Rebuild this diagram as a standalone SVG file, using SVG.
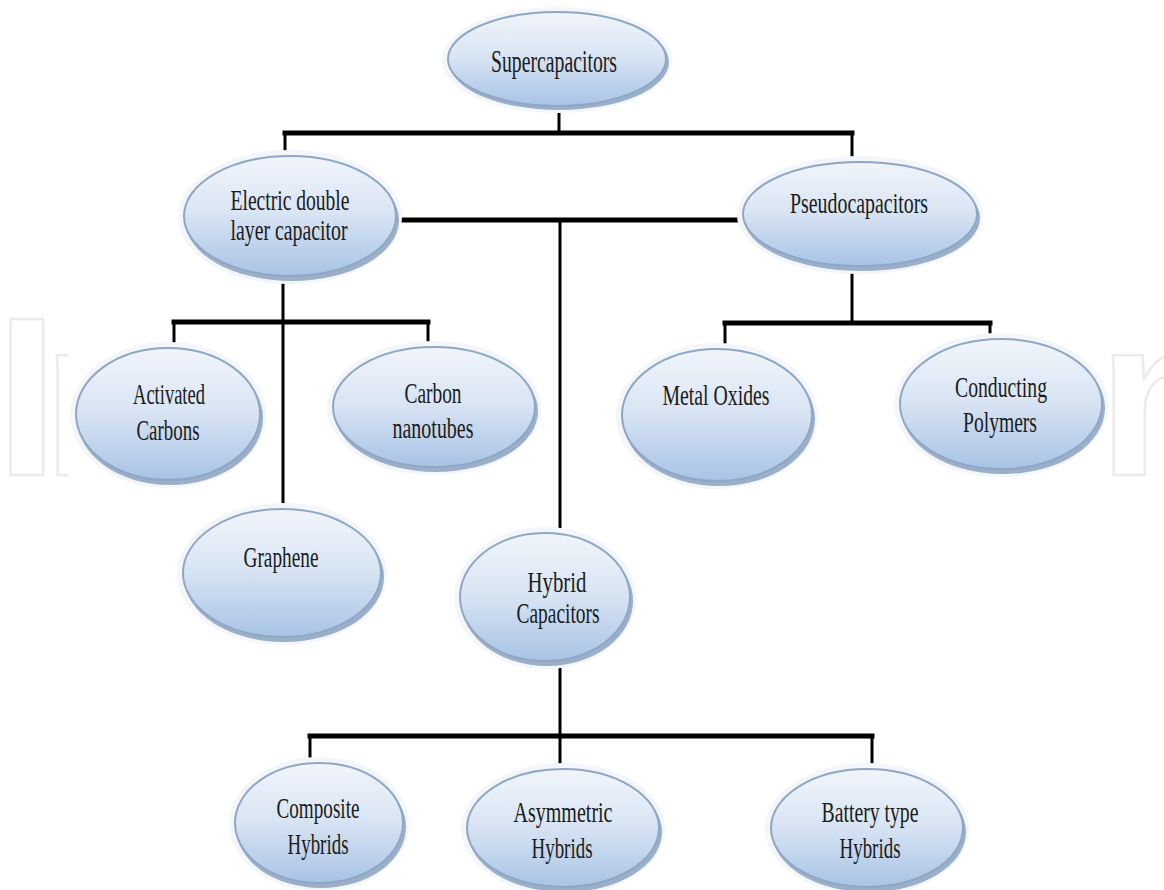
<svg xmlns="http://www.w3.org/2000/svg" width="1164" height="890" viewBox="0 0 1164 890">
  <defs>
    <linearGradient id="fillGrad" x1="0" y1="0" x2="0" y2="1">
      <stop offset="0" stop-color="#f1f5fb"/>
      <stop offset="0.45" stop-color="#dae6f4"/>
      <stop offset="1" stop-color="#a9c3e6"/>
    </linearGradient>
    <style>
      .node ellipse.body { fill: url(#fillGrad); stroke: #8fa7c6; stroke-width: 2; }
      .node ellipse.shadow { fill: #7f97b7; opacity: 0.75; }
      .node ellipse.halo { fill: none; stroke: #f3f6fa; stroke-width: 8; }
      .node text { font-family: "Liberation Serif", "Times New Roman", serif; font-size: 29px; fill: #1b1b1b; text-anchor: middle; }
      .conn line { stroke: #000; stroke-linecap: square; }
      .conn .h { stroke-width: 5; }
      .conn .v { stroke-width: 3; }
      .wm { font-family: "Liberation Sans", Arial, sans-serif; font-weight: bold; font-size: 226px; fill: none; stroke: #ebebeb; stroke-width: 2.5; }
    </style>
  </defs>

  <rect x="0" y="0" width="1164" height="890" fill="#ffffff"/>

  <!-- faint watermark (partly hidden by the diagram's white background) -->
  <g id="watermark">
    <text class="wm" x="-4.5" y="475">I</text>
    <text class="wm" x="42" y="475">n</text>
    <text class="wm" x="1098" y="475">n</text>
    <rect x="68" y="290" width="1040" height="200" fill="#ffffff"/>
  </g>

  <g id="connectors" class="conn">
    <!-- Supercapacitors to level 1 -->
    <line class="v" x1="559" y1="105" x2="559" y2="133"/>
    <line class="h" x1="285" y1="133" x2="852" y2="133"/>
    <line class="v" x1="285" y1="133" x2="285" y2="158"/>
    <line class="v" x1="852" y1="133" x2="852" y2="163"/>
    <!-- EDLC to Pseudo, and Hybrid -->
    <line class="h" x1="396" y1="220" x2="743" y2="220"/>
    <line class="v" x1="560" y1="220" x2="560" y2="533"/>
    <!-- EDLC children -->
    <line class="v" x1="283" y1="278" x2="283" y2="509"/>
    <line class="h" x1="174" y1="322" x2="428" y2="322"/>
    <line class="v" x1="174" y1="322" x2="174" y2="348"/>
    <line class="v" x1="428" y1="322" x2="428" y2="347"/>
    <!-- Pseudo children -->
    <line class="v" x1="852" y1="268" x2="852" y2="323"/>
    <line class="h" x1="725" y1="323" x2="990" y2="323"/>
    <line class="v" x1="725" y1="323" x2="725" y2="349"/>
    <line class="v" x1="990" y1="323" x2="990" y2="339"/>
    <!-- Hybrid children -->
    <line class="v" x1="560" y1="663" x2="560" y2="736"/>
    <line class="h" x1="310" y1="736" x2="872" y2="736"/>
    <line class="v" x1="310" y1="736" x2="310" y2="763"/>
    <line class="v" x1="560" y1="736" x2="560" y2="769"/>
    <line class="v" x1="872" y1="736" x2="872" y2="769"/>
  </g>

  <g id="supercapacitors" class="node">
    <ellipse class="halo" cx="557" cy="60" rx="111" ry="49"/>
    <ellipse class="shadow" cx="559" cy="62" rx="110" ry="48"/>
    <ellipse class="body" cx="557" cy="59" rx="109" ry="47"/>
    <text x="554" y="72" textLength="126" lengthAdjust="spacingAndGlyphs" style="font-size:31px">Supercapacitors</text>
  </g>

  <g id="edlc" class="node">
    <ellipse class="halo" cx="290" cy="217" rx="108" ry="63"/>
    <ellipse class="shadow" cx="292" cy="220" rx="107" ry="61"/>
    <ellipse class="body" cx="290" cy="216" rx="106" ry="60"/>
    <text x="290" y="210" textLength="119" lengthAdjust="spacingAndGlyphs">Electric double</text>
    <text x="289" y="240" textLength="117" lengthAdjust="spacingAndGlyphs">layer capacitor</text>
  </g>

  <g id="pseudocapacitors" class="node">
    <ellipse class="halo" cx="860" cy="215" rx="119" ry="55"/>
    <ellipse class="shadow" cx="862" cy="218" rx="118" ry="53"/>
    <ellipse class="body" cx="860" cy="214" rx="117" ry="52"/>
    <text x="859" y="213" textLength="138" lengthAdjust="spacingAndGlyphs">Pseudocapacitors</text>
  </g>

  <g id="activated-carbons" class="node">
    <ellipse class="halo" cx="168" cy="415" rx="94" ry="69"/>
    <ellipse class="shadow" cx="170" cy="418" rx="93" ry="67"/>
    <ellipse class="body" cx="168" cy="414" rx="92" ry="66"/>
    <text x="169" y="404" textLength="72" lengthAdjust="spacingAndGlyphs">Activated</text>
    <text x="168" y="440" textLength="63" lengthAdjust="spacingAndGlyphs">Carbons</text>
  </g>

  <g id="carbon-nanotubes" class="node">
    <ellipse class="halo" cx="434" cy="408" rx="103" ry="63"/>
    <ellipse class="shadow" cx="436" cy="411" rx="102" ry="61"/>
    <ellipse class="body" cx="434" cy="407" rx="101" ry="60"/>
    <text x="433" y="403" textLength="57" lengthAdjust="spacingAndGlyphs">Carbon</text>
    <text x="433" y="438" textLength="81" lengthAdjust="spacingAndGlyphs">nanotubes</text>
  </g>

  <g id="metal-oxides" class="node">
    <ellipse class="halo" cx="717" cy="416" rx="97" ry="69"/>
    <ellipse class="shadow" cx="719" cy="419" rx="96" ry="67"/>
    <ellipse class="body" cx="717" cy="415" rx="95" ry="66"/>
    <text x="716" y="405" textLength="107" lengthAdjust="spacingAndGlyphs">Metal Oxides</text>
  </g>

  <g id="conducting-polymers" class="node">
    <ellipse class="halo" cx="1001" cy="405" rx="103" ry="68"/>
    <ellipse class="shadow" cx="1003" cy="408" rx="102" ry="66"/>
    <ellipse class="body" cx="1001" cy="404" rx="101" ry="65"/>
    <text x="1001" y="397" textLength="92" lengthAdjust="spacingAndGlyphs">Conducting</text>
    <text x="1000" y="432" textLength="74" lengthAdjust="spacingAndGlyphs">Polymers</text>
  </g>

  <g id="graphene" class="node">
    <ellipse class="halo" cx="282" cy="574" rx="101" ry="67"/>
    <ellipse class="shadow" cx="284" cy="577" rx="100" ry="65"/>
    <ellipse class="body" cx="282" cy="573" rx="99" ry="64"/>
    <text x="281" y="567" textLength="75" lengthAdjust="spacingAndGlyphs">Graphene</text>
  </g>

  <g id="hybrid-capacitors" class="node">
    <ellipse class="halo" cx="545" cy="598" rx="87" ry="67"/>
    <ellipse class="shadow" cx="547" cy="601" rx="86" ry="65"/>
    <ellipse class="body" cx="545" cy="597" rx="85" ry="64"/>
    <text x="557" y="592" textLength="59" lengthAdjust="spacingAndGlyphs">Hybrid</text>
    <text x="558" y="623" textLength="83" lengthAdjust="spacingAndGlyphs">Capacitors</text>
  </g>

  <g id="composite-hybrids" class="node">
    <ellipse class="halo" cx="319" cy="824" rx="86" ry="63"/>
    <ellipse class="shadow" cx="321" cy="827" rx="85" ry="61"/>
    <ellipse class="body" cx="319" cy="823" rx="84" ry="60"/>
    <text x="318" y="818" textLength="83" lengthAdjust="spacingAndGlyphs">Composite</text>
    <text x="318" y="854" textLength="61" lengthAdjust="spacingAndGlyphs">Hybrids</text>
  </g>

  <g id="asymmetric-hybrids" class="node">
    <ellipse class="halo" cx="563" cy="829" rx="98" ry="62"/>
    <ellipse class="shadow" cx="565" cy="832" rx="97" ry="60"/>
    <ellipse class="body" cx="563" cy="828" rx="96" ry="59"/>
    <text x="563" y="822" textLength="99" lengthAdjust="spacingAndGlyphs">Asymmetric</text>
    <text x="562" y="858" textLength="61" lengthAdjust="spacingAndGlyphs">Hybrids</text>
  </g>

  <g id="battery-type-hybrids" class="node">
    <ellipse class="halo" cx="867" cy="829" rx="98" ry="62"/>
    <ellipse class="shadow" cx="869" cy="832" rx="97" ry="60"/>
    <ellipse class="body" cx="867" cy="828" rx="96" ry="59"/>
    <text x="870" y="822" textLength="97" lengthAdjust="spacingAndGlyphs">Battery type</text>
    <text x="870" y="858" textLength="61" lengthAdjust="spacingAndGlyphs">Hybrids</text>
  </g>
</svg>
